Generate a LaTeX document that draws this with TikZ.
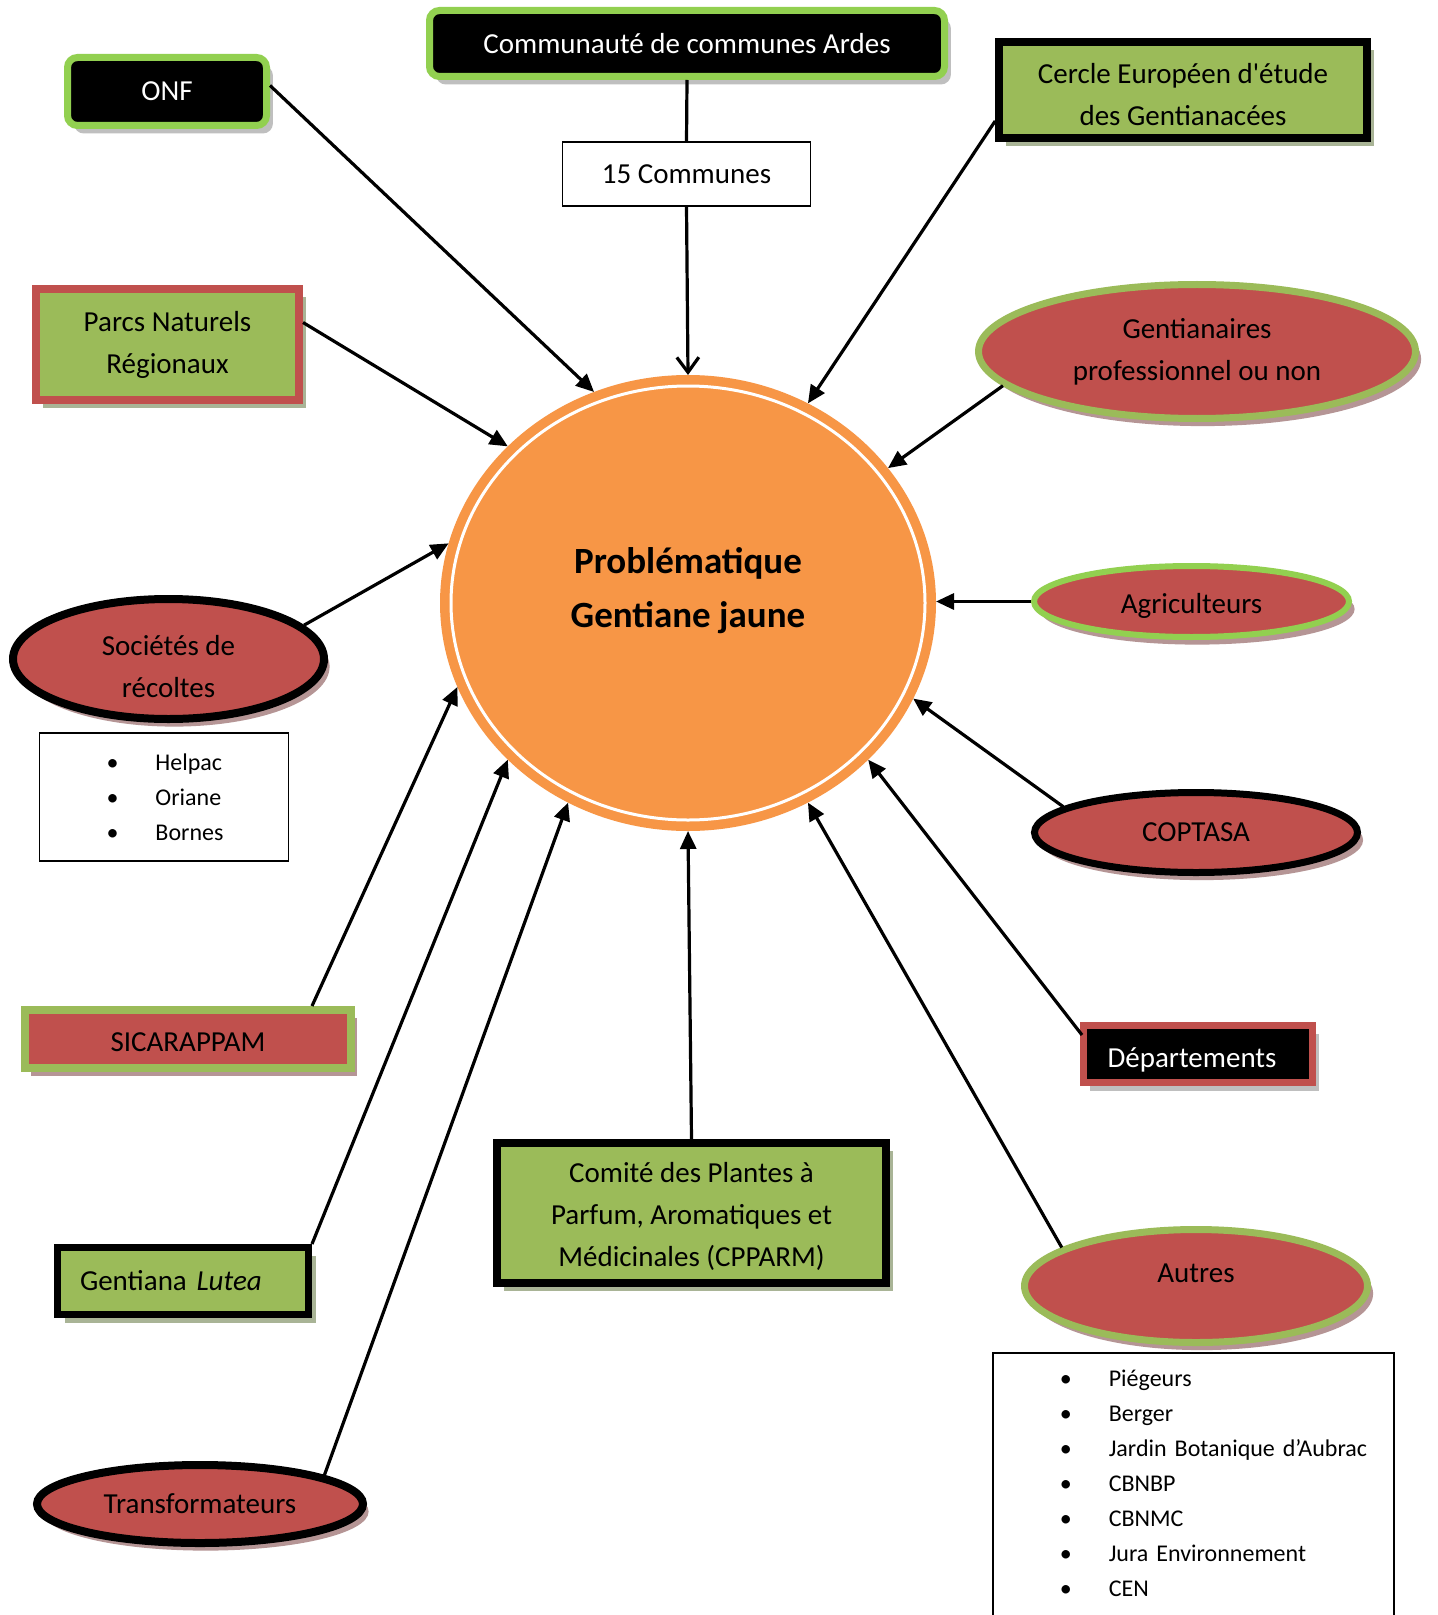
\documentclass[tikz,border=0pt]{standalone}
\usepackage{fontspec}
\setmainfont{Carlito}
\usetikzlibrary{shapes.geometric,shadows,calc,arrows.meta}
\definecolor{cOrange}{HTML}{F79646}
\definecolor{cRed}{HTML}{C0504D}
\definecolor{cGreen}{HTML}{9BBB59}
\definecolor{cLime}{HTML}{92D050}
\definecolor{shGray}{HTML}{BFBFBF}
\definecolor{shOlive}{HTML}{A9B496}
\definecolor{shRose}{HTML}{B59595}
\newcommand{\lbul}{\hspace*{33.5pt}\makebox[24.5pt][l]{\textbullet}}
\begin{document}
\begin{tikzpicture}[x=0.5pt,y=-0.5pt,
 every node/.style={font=\fontsize{14.5}{21}\selectfont, align=center, inner sep=0pt},
 shG/.style={drop shadow={shadow xshift=3.2pt,shadow yshift=-4pt,fill=shGray,opacity=1}},
 shO/.style={drop shadow={shadow xshift=3.5pt,shadow yshift=-4pt,fill=shOlive,opacity=1}},
 shR/.style={drop shadow={shadow xshift=2.8pt,shadow yshift=-3.8pt,fill=shRose,opacity=1}},
 limebox/.style={rectangle, rounded corners=5pt, fill=black, draw=cLime, line width=3.5pt, text=white, shG},
 greenbox/.style={rectangle, fill=cGreen, draw=#1, line width=3.8pt, shO},
 redell/.style={ellipse, fill=cRed, draw=#1, line width=3.5pt, shR},
 thinbox/.style={rectangle, draw=black, line width=0.8pt, fill=white},
 arr/.style={line width=1.6pt, -{Triangle[length=9pt,width=8pt]}},
 openarr/.style={line width=1.6pt, -{Straight Barb[length=7.5pt,width=11pt]}},
 listfont/.style={font=\fontsize{12}{17.5}\selectfont}
]
\fill[white] (0,0) rectangle (1437,1615);
\useasboundingbox (0,0) rectangle (1437,1615);

% central
\node[ellipse, fill=cOrange, draw=cOrange, line width=1pt, minimum width=247pt, minimum height=227pt,
      font=\fontsize{18.5}{27}\selectfont\bfseries, text depth=15.5pt] (prob) at (688,603) {Problématique\\Gentiane jaune};
\draw[white, line width=1.5pt] (prob.center) ellipse [x radius=118.5pt, y radius=108.5pt];

% top
\node[limebox, minimum width=99.5pt, minimum height=34pt] (onf) at (167,91.5) {ONF};
\node[limebox, minimum width=257.5pt, minimum height=33pt] (ccom) at (687,43.5) {Communauté de communes Ardes};
\node[thinbox, minimum width=124pt, minimum height=32pt] (quinze) at (686.5,174) {15 Communes};
\node[greenbox=black, minimum width=184pt, minimum height=48pt, text height=35.6pt] (cercle) at (1183,90) {Cercle Européen d\textquotesingle étude\\des Gentianacées};
\node[greenbox=cRed, minimum width=131.75pt, minimum height=55.75pt] (parcs) at (167.5,344.5) {Parcs Naturels\\Régionaux};

% right
\node[redell=cGreen, minimum width=218.5pt, minimum height=67pt] (gent) at (1197,351.5) {Gentianaires\\professionnel ou non};
\node[redell=cLime, line width=3pt, minimum width=157.5pt, minimum height=35.5pt, text height=14pt] (agri) at (1191.5,601.5) {Agriculteurs};
\node[redell=black, minimum width=161.5pt, minimum height=40pt] (coptasa) at (1196,832.5) {COPTASA};
\node[rectangle, fill=black, draw=cRed, line width=3.5pt, text=white, minimum width=114.5pt, minimum height=28.5pt, text height=16pt, shG] (dep) at (1198,1054) {Départements\hspace*{6pt}};
\node[redell=cGreen, minimum width=171.5pt, minimum height=56.5pt, text depth=13pt] (autres) at (1196,1286) {Autres};
\node[thinbox, listfont, anchor=north west, text width=200.5pt, align=left, inner ysep=8.5pt] (autlist) at (992,1352)
 {\lbul Piégeurs\\\lbul Berger\\\lbul Jardin Botanique d’Aubrac\\\lbul CBNBP\\\lbul CBNMC\\\lbul Jura Environnement\\\lbul CEN\rule[-30pt]{0pt}{0pt}};

% left
\node[redell=black, line width=4pt, minimum width=155.5pt, minimum height=60pt, text height=38.6pt] (soc) at (168.5,659) {Sociétés de\\récoltes};
\node[thinbox, listfont, text width=124.5pt, align=left, minimum height=64pt] (soclist) at (164,797) {\lbul Helpac\\\lbul Oriane\\\lbul Bornes};
\node[rectangle, fill=cRed, draw=cGreen, line width=4pt, minimum width=163pt, minimum height=29pt, text height=13pt, shR] (sica) at (188,1039) {SICARAPPAM};
\node[greenbox=black, line width=3.5pt, minimum width=125.5pt, minimum height=33.5pt, text width=103pt, align=left, inner xsep=11.25pt] (lutea) at (183,1281) {Gentiana \textit{Lutea}};
\node[redell=black, line width=4pt, minimum width=163pt, minimum height=39pt] (transf) at (200,1504) {Transformateurs};

% bottom
\node[greenbox=black, minimum width=194.5pt, minimum height=70pt, text height=55.8pt] (comite) at (691.5,1213) {Comité des Plantes à\\Parfum, Aromatiques et\\Médicinales (CPPARM)};

% connectors
\draw[line width=1.6pt] (ccom.south) -- (quinze.north);
\draw[openarr] (quinze.south) -- (prob.north);
\draw[arr] ($(onf.east)+(0,-6)$) -- (prob.114.6);
\draw[arr] ($(parcs.east)+(0,-22)$) -- (prob.139.2);
\draw[arr] ($(cercle.west)+(0,31)$) -- (prob.59.2);
\draw[arr] (gent.190) -- (prob.34.8);
\draw[arr] (agri.west) -- (agri.west -| prob.east);
\draw[arr] (coptasa.169) -- (prob.-23);
\draw[arr] ($(dep.north west)+(2,13)$) -- (prob.-41.2);
\draw[arr] (autres.164.6) -- (prob.-59.8);
\draw[arr] (comite.north) -- (prob.south);
\draw[arr] (transf.13) -- (prob.239.7);
\draw[arr] (lutea.north east) -- (prob.221.7);
\draw[arr] ($(sica.north east)+(-43,0)$) -- (prob.200.4);
\draw[arr] (soc.14) -- (prob.166);
\end{tikzpicture}
\end{document}
